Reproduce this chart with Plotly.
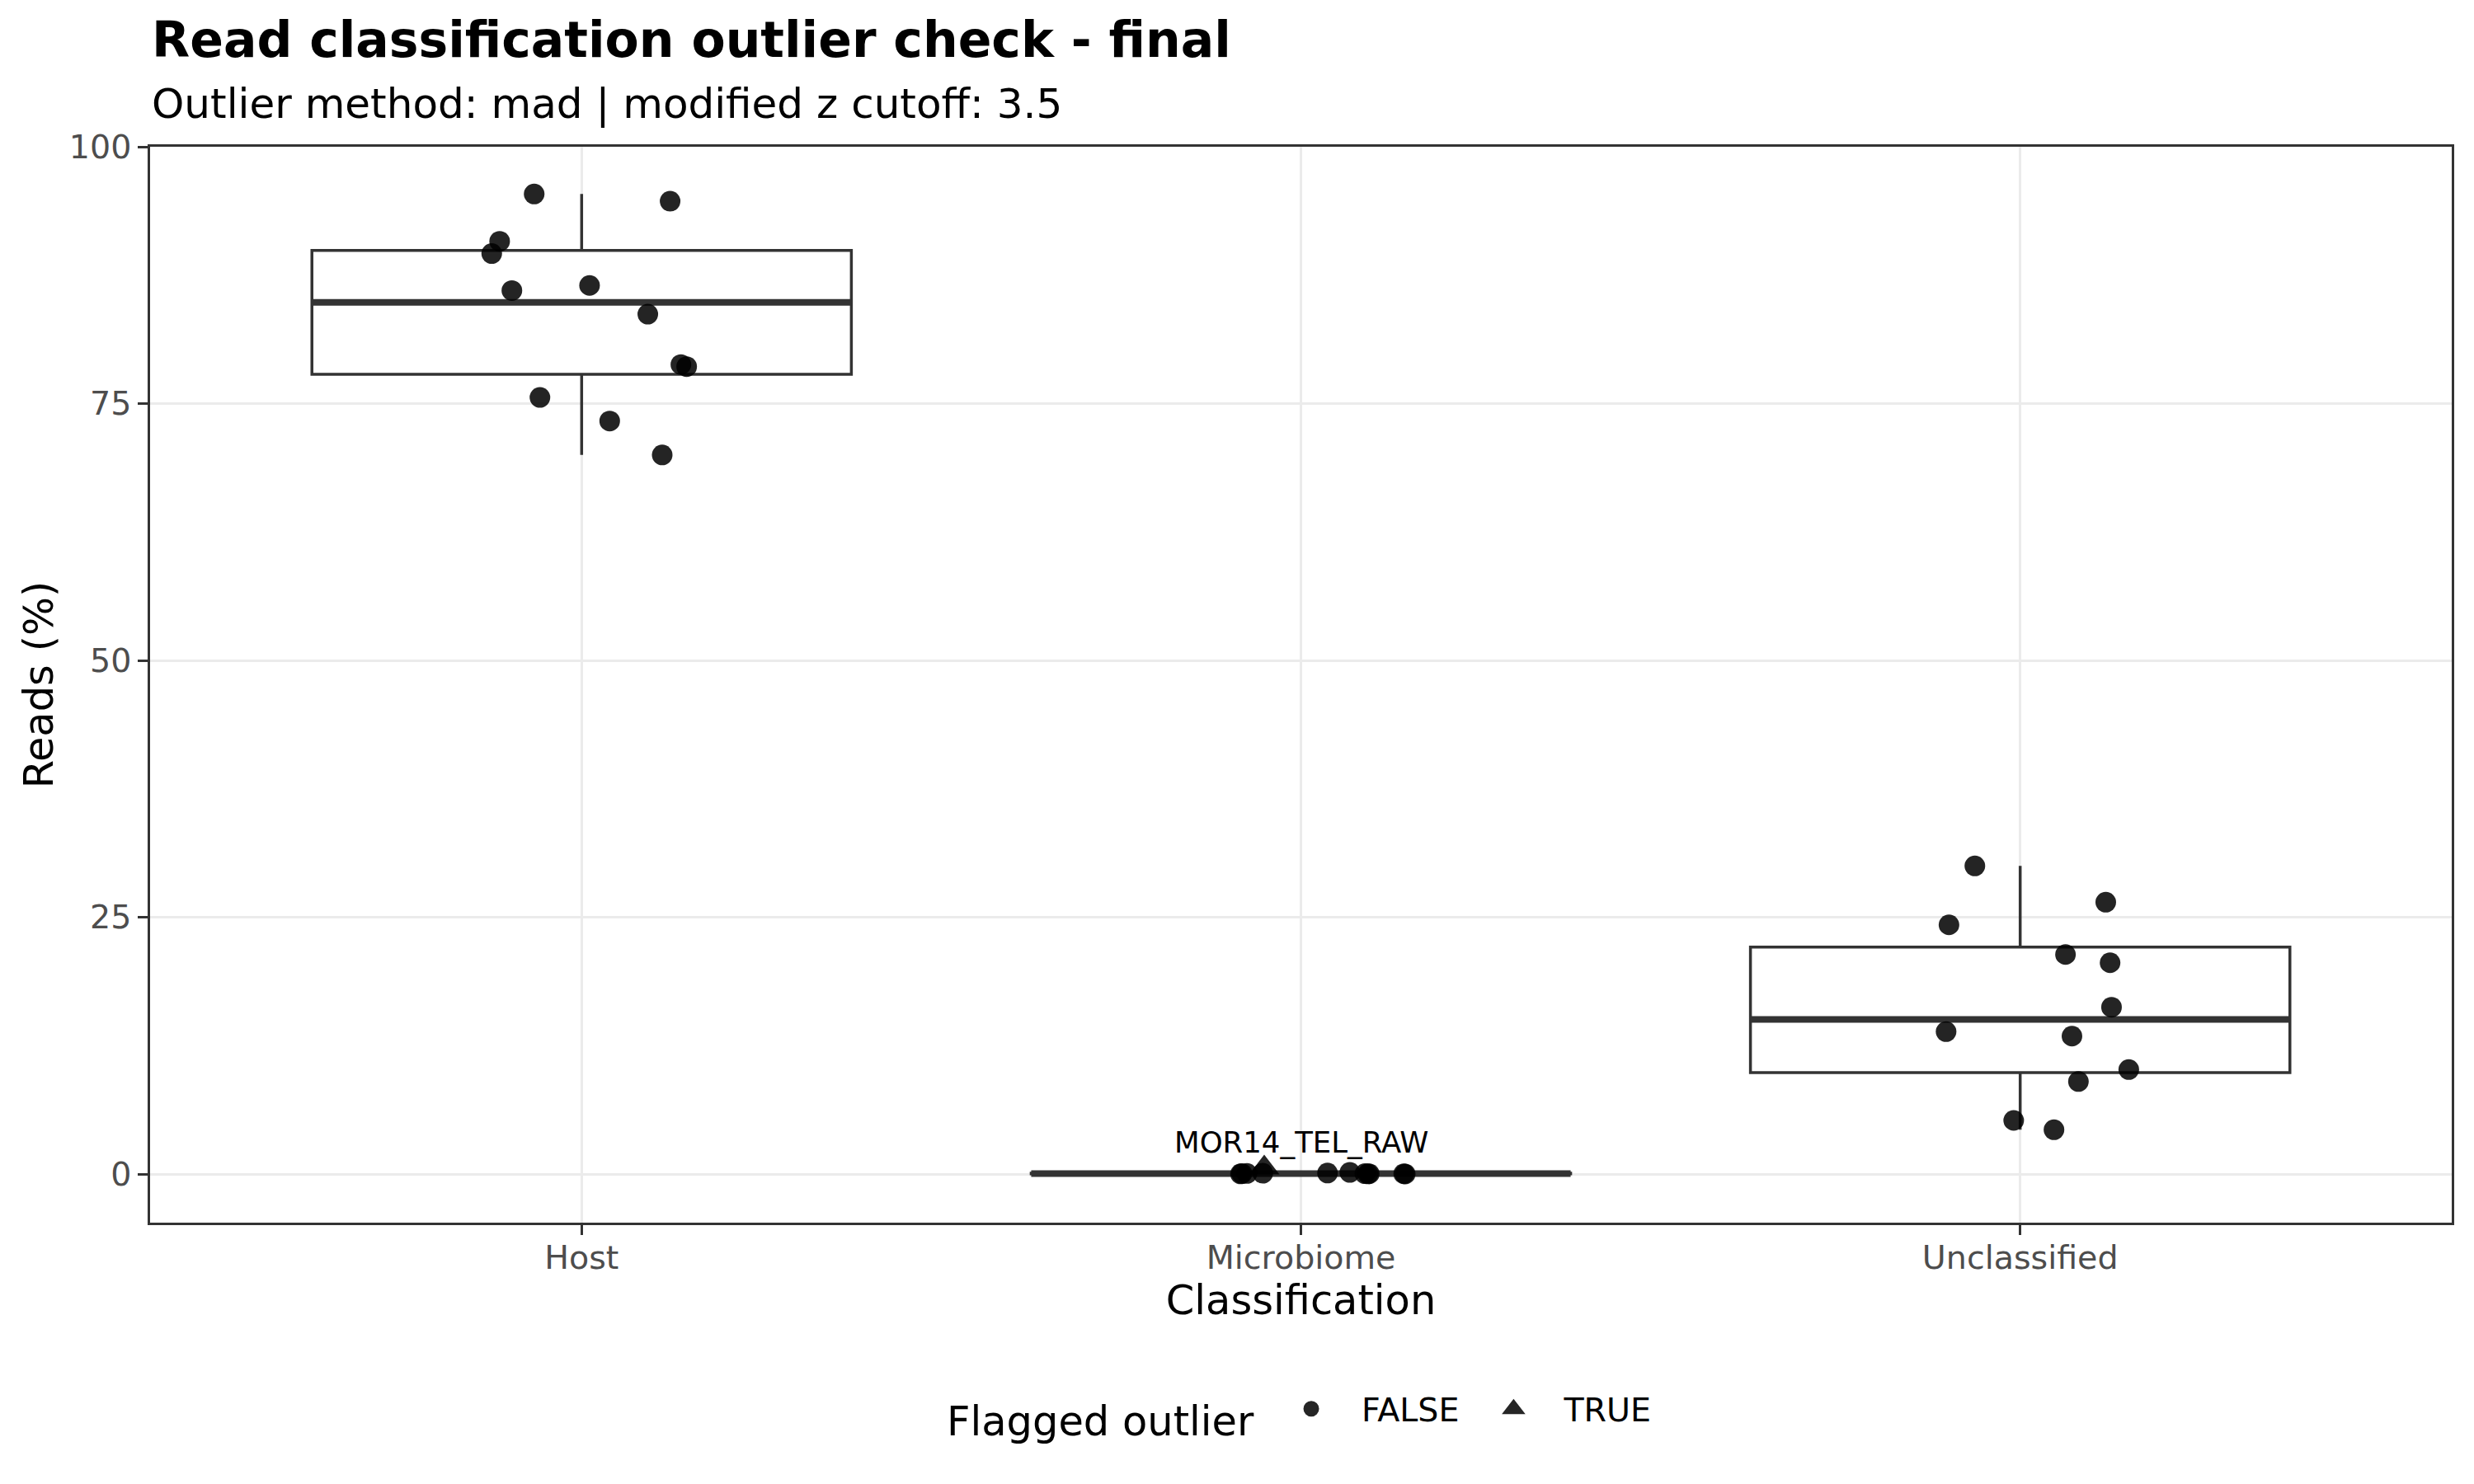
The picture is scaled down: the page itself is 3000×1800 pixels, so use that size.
import numpy as np
import plotly.graph_objects as go

# ---------------- data ----------------
categories = ["Host", "Microbiome", "Unclassified"]

host_values = [95.4, 94.7, 90.8, 89.6, 86.0, 86.5, 83.7, 78.8, 78.6, 75.6, 73.3, 70.0]
host_jitter = [-0.066, 0.123, -0.114, -0.125, -0.097, 0.011, 0.092, 0.138, 0.146, -0.058, 0.039, 0.112]

microbiome_values = [0.02, 0.05, 0.06, 0.08, 0.10, 0.16, 0.04, 0.02, 0.03, 0.01, 0.03, 0.60]
microbiome_jitter = [-0.084, -0.082, -0.075, -0.053, 0.037, 0.068, 0.089, 0.093, 0.095, 0.145, 0.143, -0.051]
microbiome_flagged = [False, False, False, False, False, False, False, False, False, False, False, True]

unclassified_values = [29.99, 26.46, 24.26, 21.37, 20.57, 16.24, 13.86, 13.43, 10.17, 9.01, 5.22, 4.31]
unclassified_jitter = [-0.063, 0.119, -0.099, 0.063, 0.125, 0.127, -0.103, 0.072, 0.151, 0.081, -0.009, 0.047]

outlier_label = "MOR14_TEL_RAW"

title_text = "Read classification outlier check - final"
subtitle_text = "Outlier method: mad | modified z cutoff: 3.5"

y_ticks = [0, 25, 50, 75, 100]

# ---------------- styling ----------------
FONT = "DejaVu Sans"
DARK = "#333333"
GRID = "#ebebeb"
PT_COLOR = "rgba(0,0,0,0.86)"
BOX_W = 0.75

values_by_cat = [host_values, microbiome_values, unclassified_values]
jitter_by_cat = [host_jitter, microbiome_jitter, unclassified_jitter]
flags_by_cat = [[False] * len(host_values), microbiome_flagged, [False] * len(unclassified_values)]

fig = go.Figure()

# boxes (ggplot-like quartiles, type 7)
for i, vals in enumerate(values_by_cat):
    v = np.array(vals, dtype=float)
    q1, med, q3 = np.percentile(v, [25, 50, 75])
    iqr = q3 - q1
    lo = v[v >= q1 - 1.5 * iqr].min()
    hi = v[v <= q3 + 1.5 * iqr].max()
    fig.add_trace(go.Box(
        x=[i], q1=[q1], median=[med], q3=[q3], lowerfence=[lo], upperfence=[hi],
        width=BOX_W, fillcolor="white", line=dict(color=DARK, width=3.5),
        whiskerwidth=0, boxpoints=False, showlegend=False, hoverinfo="skip",
    ))
    fig.add_trace(go.Scatter(
        x=[i - BOX_W / 2, i + BOX_W / 2], y=[med, med], mode="lines",
        line=dict(color=DARK, width=8), showlegend=False, hoverinfo="skip",
    ))

# points
fx, fy, tx, ty = [], [], [], []
for i in range(len(categories)):
    for v, j, f in zip(values_by_cat[i], jitter_by_cat[i], flags_by_cat[i]):
        if f:
            tx.append(i + j); ty.append(v)
        else:
            fx.append(i + j); fy.append(v)

fig.add_trace(go.Scatter(
    x=fx, y=fy, mode="markers", name="FALSE", showlegend=False,
    marker=dict(symbol="circle", size=25, color=PT_COLOR, line=dict(width=0)),
))
fig.add_trace(go.Scatter(
    x=tx, y=ty, mode="markers", name="TRUE", showlegend=False,
    marker=dict(symbol="triangle-up", size=32, color=PT_COLOR, line=dict(width=0)),
))

# legend entries (same styling, larger symbol as in the reference legend)
fig.add_trace(go.Scatter(
    x=[None], y=[None], mode="markers", name="FALSE",
    marker=dict(symbol="circle", size=16, color="#262626", line=dict(width=3, color="#262626")),
))
fig.add_trace(go.Scatter(
    x=[None], y=[None], mode="markers", name="TRUE",
    marker=dict(symbol="triangle-up", size=16, color="#262626", line=dict(width=5, color="#262626")),
))

# outlier label
fig.add_annotation(
    x=1, y=ty[0], text=outlier_label, showarrow=False,
    xanchor="center", yanchor="middle", yshift=31,
    font=dict(family=FONT, size=35.5, color="black"),
)

# subtitle
fig.add_annotation(
    xref="paper", yref="paper", x=0, y=(1483 - 126) / 1305,
    xanchor="left", yanchor="middle", xshift=0,
    text=subtitle_text, showarrow=False,
    font=dict(family=FONT, size=50, color="black"),
)

axis_common = dict(
    showgrid=True, gridcolor=GRID, gridwidth=2.5,
    ticks="outside", ticklen=12, tickwidth=2.5, tickcolor=DARK,
    showline=True, mirror=True, linecolor=DARK, linewidth=2.5,
    zeroline=False, tickfont=dict(family=FONT, size=39.6, color="#4d4d4d"),
)

fig.update_layout(
    width=3000, height=1800,
    margin=dict(l=182, r=27, t=178, b=317),
    paper_bgcolor="white", plot_bgcolor="white",
    font=dict(family=FONT, color="black"),
    title=dict(
        text="<b>" + title_text + "</b>",
        xref="container", x=184 / 3000, xanchor="left",
        yref="container", y=1 - 48 / 1800, yanchor="middle",
        font=dict(family=FONT, size=60, color="black"),
    ),
    xaxis=dict(
        range=[-0.6, 2.6], tickvals=list(range(len(categories))), ticktext=categories,
        ticklabelstandoff=-6,
        title=dict(text="Classification", font=dict(family=FONT, size=49.5, color="black"), standoff=2),
        **axis_common,
    ),
    yaxis=dict(
        range=[-4.73, 100], tickvals=y_ticks, ticktext=[str(t) for t in y_ticks],
        title=dict(text="Reads (%)", font=dict(family=FONT, size=49.5, color="black"), standoff=4),
        **axis_common,
    ),
    legend=dict(
        orientation="h", x=0.5, xanchor="center", y=(1483 - 1714) / 1305, yanchor="middle",
        title=dict(text="Flagged outlier", font=dict(family=FONT, size=49.5, color="black"), side="left"),
        font=dict(family=FONT, size=39.6, color="black"),
        itemwidth=112, bgcolor="rgba(0,0,0,0)",
    ),
)

fig.write_html("out.html")
